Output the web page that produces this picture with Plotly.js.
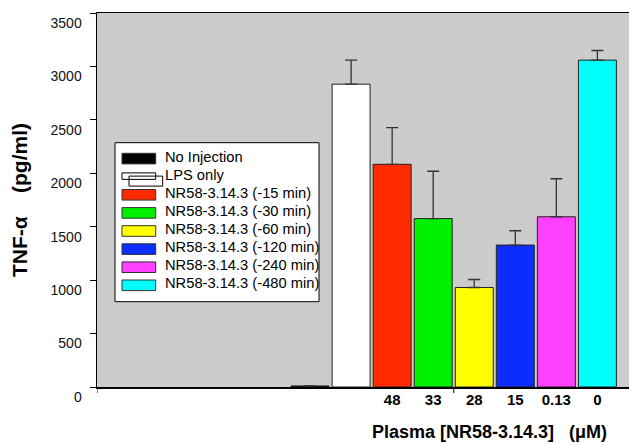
<!DOCTYPE html>
<html>
<head>
<meta charset="utf-8">
<script src="https://cdn.plot.ly/plotly-3.0.1.min.js"></script>
<style>html,body{margin:0;padding:0;background:#fff;}#chart{width:629px;height:444px;}</style>
</head>
<body>
<div id="chart"></div>
<script>
// ---- data ----
var groups = ["No Injection", "LPS only", "NR58-3.14.3 (-15 min)", "NR58-3.14.3 (-30 min)",
              "NR58-3.14.3 (-60 min)", "NR58-3.14.3 (-120 min)", "NR58-3.14.3 (-240 min)", "NR58-3.14.3 (-480 min)"];
var positions = [0, 1, 2, 3, 4, 5, 6, 7];
var tnfValues = [10, 2834, 2084, 1576, 931, 1328, 1593, 3059];
var tnfErrors = [0, 225, 343, 443, 75, 134, 356, 90];
var barColors = ["#000000", "#ffffff", "#ff2a00", "#00f000", "#ffff00", "#0d2dff", "#ff40ff", "#00ffff"];
var concTickVals = [2, 3, 4, 5, 6, 7];
var concTickText = ["48", "33", "28", "15", "0.13", "0"];
var yTickVals = [0, 500, 1000, 1500, 2000, 2500, 3000, 3500];

// ---- layout helpers (pixel -> paper) ----
var W = 629, H = 444, ML = 97, MR = 0, MT = 13, MB = 57;
var PW = W - ML - MR, PH = H - MT - MB;
function px(x) { return (x - ML) / PW; }
function py(y) { return (H - MB - y) / PH; }

var font = "Liberation Sans, Arial, sans-serif";

var trace = {
  type: "bar",
  x: positions,
  y: tnfValues,
  width: 0.925,
  marker: { color: barColors, line: { color: "#222", width: 1 } },
  error_y: { type: "data", symmetric: false, array: tnfErrors,
             arrayminus: tnfErrors.map(function () { return 0; }),
             color: "#333", thickness: 1.3, width: 6 },
  showlegend: false,
  hoverinfo: "skip"
};

var shapes = [];
var annotations = [];

// extra x-axis tick marks
[-5.19, 3.5].forEach(function (v) {
  shapes.push({ type: "line", xref: "x", yref: "paper", x0: v, x1: v, y0: 0, y1: -6 / PH,
                line: { color: "#000", width: 1 } });
});

// legend box
shapes.push({ type: "rect", xref: "paper", yref: "paper",
              x0: px(115), x1: px(319), y0: py(142.7), y1: py(301.7),
              fillcolor: "#fff", line: { color: "#000", width: 1 }, layer: "above" });
var rowStep = 18.1, swTop = 153.3, swH = 10.6;
groups.forEach(function (g, i) {
  var top = swTop + rowStep * i;
  if (i === 1) {
    shapes.push({ type: "rect", xref: "paper", yref: "paper",
                  x0: px(122), x1: px(155.7), y0: py(top + 1.5), y1: py(top + 8),
                  fillcolor: "rgba(0,0,0,0)", line: { color: "#000", width: 1 }, layer: "above" });
    shapes.push({ type: "rect", xref: "paper", yref: "paper",
                  x0: px(129), x1: px(162.7), y0: py(top + 4.7), y1: py(top + 14.7),
                  fillcolor: "rgba(0,0,0,0)", line: { color: "#000", width: 1 }, layer: "above" });
  } else {
    shapes.push({ type: "rect", xref: "paper", yref: "paper",
                  x0: px(122), x1: px(155.7), y0: py(top), y1: py(top + swH),
                  fillcolor: barColors[i], line: { color: "#333", width: 1 }, layer: "above" });
  }
  annotations.push({ xref: "paper", yref: "paper", x: px(163), y: py(top + 3.2),
                     xanchor: "left", yanchor: "middle", showarrow: false, text: g,
                     font: { family: font, size: 14.7, color: "#000" } });
});

// x axis title
annotations.push({ xref: "paper", yref: "paper", x: px(489), y: py(432),
                   xanchor: "center", yanchor: "middle", showarrow: false,
                   text: "<b>Plasma [NR58-3.14.3]\u00a0\u00a0\u00a0(\u03bcM)</b>",
                   font: { family: font, size: 18, color: "#000" } });

var layout = {
  width: W, height: H,
  margin: { l: ML, r: MR, t: MT, b: MB, pad: 0 },
  paper_bgcolor: "#ffffff",
  plot_bgcolor: "#cccccc",
  showlegend: false,
  xaxis: {
    range: [-5.19, 7.77], tickmode: "array", tickvals: concTickVals, ticktext: concTickText,
    ticks: "", showgrid: false, zeroline: false, showline: true, linecolor: "#000", linewidth: 1.5,
    mirror: true, tickfont: { family: font, size: 15, color: "#000", weight: "bold" },
    ticklabelstandoff: -2, fixedrange: true
  },
  yaxis: {
    range: [0, 3500], tickmode: "array", tickvals: yTickVals,
    ticks: "outside", ticklen: 6, tickcolor: "#000", tickwidth: 1,
    showgrid: false, zeroline: false, showline: true, linecolor: "#000", linewidth: 1.5,
    tickfont: { family: font, size: 14, color: "#111" }, ticklabelshift: 10, ticklabelstandoff: 5,
    title: { text: "<b>TNF-\u03b1\u00a0\u00a0\u00a0\u00a0(pg/ml)</b>", standoff: 17,
             font: { family: font, size: 21, color: "#000" } },
    fixedrange: true
  },
  shapes: shapes,
  annotations: annotations
};

Plotly.newPlot("chart", [trace], layout, { displayModeBar: false, staticPlot: true });
</script>
</body>
</html>
